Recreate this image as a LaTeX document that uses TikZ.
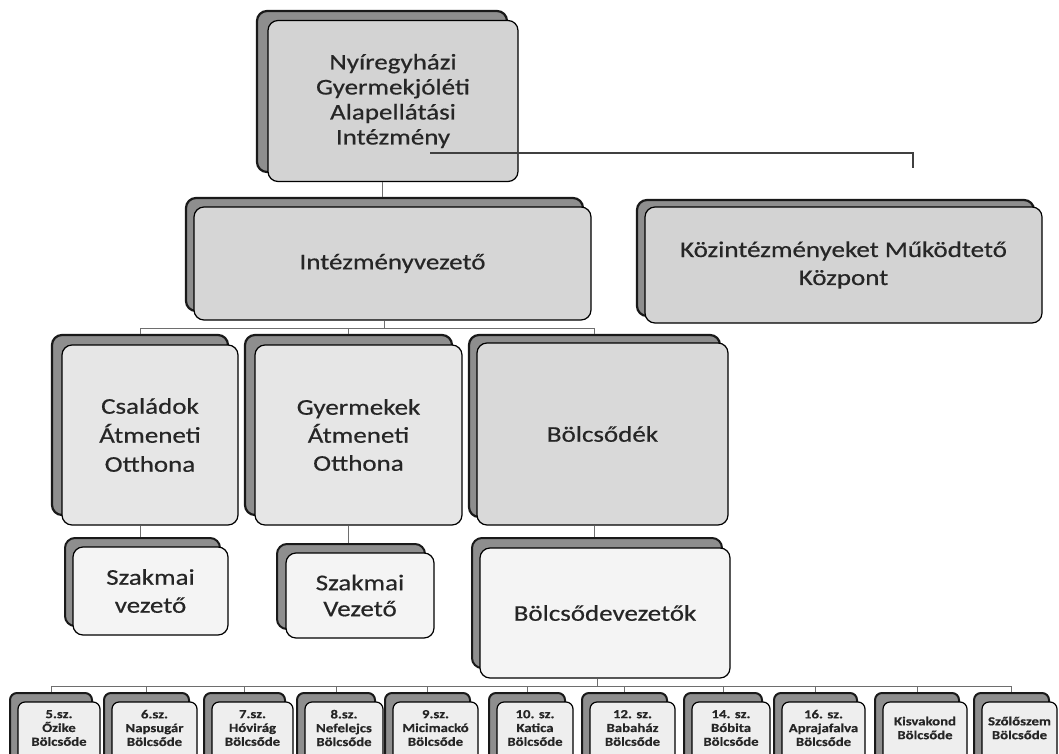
\documentclass[tikz,border=0pt]{standalone}
\usepackage{fontspec}
\setmainfont{Carlito}[FakeStretch=1.2,FakeBold=0.5]
\definecolor{backgray}{HTML}{8E8E8E}
\definecolor{filla}{HTML}{D3D3D3}
\definecolor{fillb}{HTML}{D6D6D6}
\definecolor{fillc}{HTML}{E6E6E6}
\definecolor{filld}{HTML}{D9D9D9}
\definecolor{filll}{HTML}{F4F4F4}
\definecolor{fillbot}{HTML}{EEEEEE}
\definecolor{textgray}{HTML}{262626}
\definecolor{conngray}{HTML}{6E6E6E}
\tikzset{
  backbox/.style={draw=black!90, line width=2.2pt, fill=backgray, rounded corners=10pt, inner sep=0pt},
  frontbox/.style={draw=black, line width=1.2pt, rounded corners=10pt, inner sep=0pt, align=center, text=textgray},
  bigfont/.style={font=\fontsize{22.5}{#1}\selectfont},
  smallback/.style={backbox, rounded corners=7pt, line width=2pt},
  smallfront/.style={frontbox, rounded corners=7pt, fill=fillbot},
  smalltext/.style={align=center, text=textgray, font=\bfseries\fontsize{12.3}{13.8}\selectfont, inner sep=0pt},
  conn/.style={draw=conngray, line width=0.8pt},
  thickconn/.style={draw=black!75, line width=2.6pt},
}
\begin{document}
\begin{tikzpicture}[x=1pt,y=-1pt]
\useasboundingbox[fill=white] (0,0) rectangle (1059,754);

% level 1
\node[backbox, minimum width=250pt, minimum height=161pt] (top) at (382,91.5) {};
\node[frontbox, bigfont=25, fill=filla, minimum width=250pt, minimum height=161pt] (top-f) at (393,101) {Nyíregyházi\\Gyermekjóléti\\Alapellátási\\Intézmény};

% level 2
\node[backbox, minimum width=397pt, minimum height=113pt] (vez) at (384.5,254.5) {};
\node[frontbox, bigfont=25, fill=fillb, minimum width=397pt, minimum height=113pt] (vez-f) at (392.5,263.5) {Intézményvezető};

\node[backbox, minimum width=397pt, minimum height=116pt] (koz) at (835.5,258) {};
\node[frontbox, bigfont=28, fill=filla, minimum width=397pt, minimum height=116pt] (koz-f) at (843.5,265) {Közintézményeket Működtető\\Központ};

% level 3
\node[backbox, minimum width=176pt, minimum height=180pt] (cs) at (140,425) {};
\node[frontbox, bigfont=29, fill=fillc, minimum width=176pt, minimum height=180pt] (cs-f) at (150,435) {Családok\\Átmeneti\\Otthona};

\node[backbox, minimum width=207pt, minimum height=180pt] (gy) at (348.5,425) {};
\node[frontbox, bigfont=28, fill=fillc, minimum width=207pt, minimum height=180pt] (gy-f) at (358.5,435) {Gyermekek\\Átmeneti\\Otthona};

\node[backbox, minimum width=251pt, minimum height=182pt] (bo) at (594.5,426) {};
\node[frontbox, bigfont=25, fill=filld, minimum width=251pt, minimum height=182pt] (bo-f) at (602.5,434) {Bölcsődék};

% level 4
\node[backbox, line width=2pt, minimum width=155pt, minimum height=88pt] (sz1) at (142.5,582) {};
\node[frontbox, bigfont=28, fill=filll, minimum width=155pt, minimum height=88pt] (sz1-f) at (150.5,591) {Szakmai\\vezető};

\node[backbox, line width=2pt, minimum width=148pt, minimum height=85pt] (sz2) at (351,586.5) {};
\node[frontbox, bigfont=26, fill=filll, minimum width=148pt, minimum height=85pt] (sz2-f) at (360,595.5) {Szakmai\\Vezető};

\node[backbox, line width=2pt, minimum width=250pt, minimum height=130pt] (bv) at (597,603) {};
\node[frontbox, bigfont=25, fill=filll, minimum width=250pt, minimum height=130pt] (bv-f) at (605,613) {Bölcsődevezetők};

% level 5
\foreach \n/\c/\w/\t in {
  b1/59/82/{5.sz.\\Őzike\\Bölcsőde},
  b2/154.5/85/{6.sz.\\Napsugár\\Bölcsőde},
  b3/252.5/81/{7.sz.\\Hóvirág\\Bölcsőde},
  b4/344/78/{8.sz.\\Nefelejcs\\Bölcsőde},
  b5/435.5/85/{9.sz.\\Micimackó\\Bölcsőde},
  b6/535/76/{10. sz.\\Katica\\Bölcsőde},
  b7/632.5/85/{12. sz.\\Babaház\\Bölcsőde},
  b8/731/78/{14. sz.\\Bóbita\\Bölcsőde},
  b9/823.5/83/{16. sz.\\Aprajafalva\\Bölcsőde},
  b10/925/84/{Kisvakond\\Bölcsőde},
  b11/1019.5/75/{Szőlőszem\\Bölcsőde}} {
  \node[smallback, minimum width=\w pt, minimum height=68pt] (\n) at (\c-8,727) {};
  \node[smallfront, minimum width=\w pt, minimum height=68pt] (\n-f) at (\c,736) {};
  \node[smalltext] (\n-t) at (\c,728) {\t};
}

% connectors
\draw[conn] (top.center |- top-f.south) -- (top.center |- vez.north);
\coordinate (hub1) at (vez.center |- 0,328);
\draw[conn] (vez.center |- vez-f.south) -- (hub1);
\draw[conn] (cs.north) -- (cs.north |- hub1) -- (bo.north |- hub1) -- (bo.north);
\draw[conn] (gy.north |- hub1) -- (gy.north);
\draw[conn] (cs.center |- cs-f.south) -- (cs.center |- sz1.north);
\draw[conn] (gy.center |- gy-f.south) -- (gy.center |- sz2.north);
\draw[conn] (bo.center |- bo-f.south) -- (bo.center |- bv.north);
\coordinate (hub2) at (bv.center |- 0,686);
\draw[conn] (bv.center |- bv-f.south) -- (hub2);
\draw[conn] (b1.north |- hub2) -- (b11.north |- hub2);
\foreach \n in {b1,b2,b3,b4,b5,b6,b7,b8,b9,b10,b11} {
  \draw[conn] (\n.north |- hub2) -- (\n.north);
}
\coordinate (kst) at (430,153);
\coordinate (kend) at (913,168);
\draw[thickconn] (kst) -| (kend);
\end{tikzpicture}
\end{document}
